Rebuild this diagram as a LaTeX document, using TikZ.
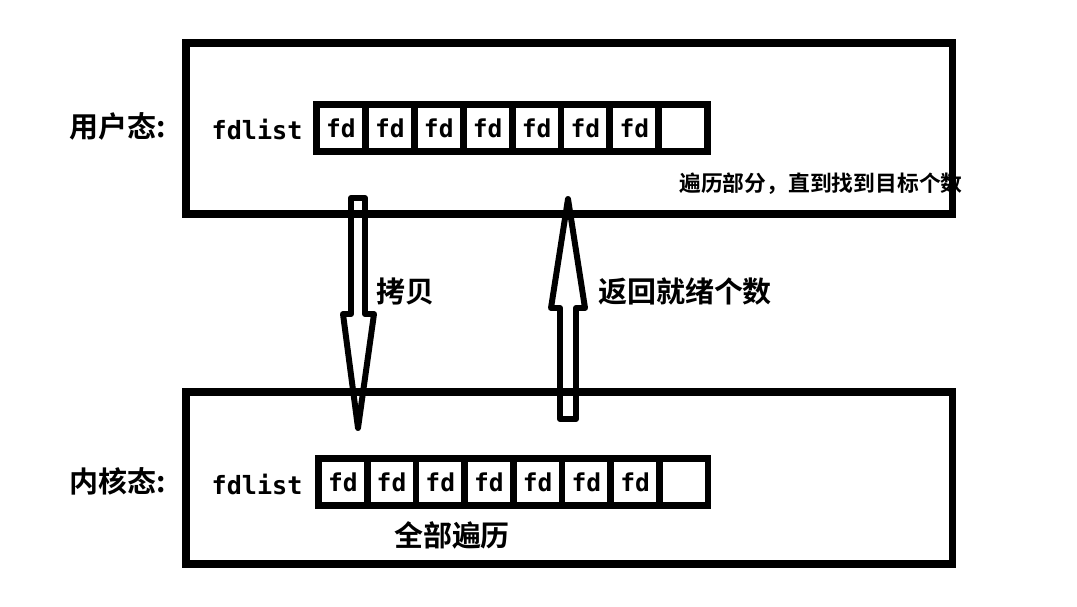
\documentclass[tikz,border=0pt]{standalone}
\usepackage{fontspec}
\setmonofont{DejaVu Sans Mono}
\newfontfamily\cjk{Noto Sans CJK SC}[BoldFont={* Bold}]
\usetikzlibrary{positioning}
\tikzset{
  box/.style={draw, line width=4pt},
  cell/.style={draw, line width=3.8pt, minimum width=27.7pt, minimum height=26.4pt,
    inner sep=0pt, outer sep=0pt, font=\ttfamily\bfseries\fontsize{14}{14}\selectfont},
  mono/.style={font=\ttfamily\bfseries\fontsize{14.3}{14.3}\selectfont},
  hollow/.style={draw, line width=3.4pt, line join=round},
  zh/.style={font=\cjk\bfseries\fontsize{16.5}{16.5}\selectfont},
  zhsmall/.style={font=\cjk\bfseries\fontsize{12.4}{12.4}\selectfont}
}

\begin{document}
\begin{tikzpicture}[x=0.02cm, y=-0.02cm]
  \useasboundingbox (0,0) rectangle (1077,607);

  % user space
  \draw[box] (186,43) rectangle (952,214);
  \node[zh] (userlbl) at (118,126) {用户态:};
  \node[mono] (ulist) at (257,129) {fdlist};
  \foreach \i in {1,...,7}
    \node[cell] (u\i) at ({316.5+48.9*(\i-0.5)},128) {fd};
  \node[cell] (u8) at ({316.5+48.9*7.5},128) {};
  \node[zhsmall] (part) at (821,184) {遍历部分，直到找到目标个数};

  % kernel space
  \draw[box] (186,392) rectangle (952,564);
  \node[zh] (kernlbl) at (118,481) {内核态:};
  \node[mono] (klist) at (257,484) {fdlist};
  \foreach \i in {1,...,7}
    \node[cell] (k\i) at ({318.5+48.7*(\i-0.5)},482) {fd};
  \node[cell] (k8) at ({318.5+48.7*7.5},482) {};
  \node[zh] (all) at (452,535) {全部遍历};

  % copy down
  \draw[hollow] (351,198) -- (365,198) -- (365,314) -- (374,314) -- (358,428)
    -- (343,314) -- (351,314) -- cycle;
  \node[zh] (copy) at (405,291) {拷贝};

  % ready count up
  \draw[hollow] (560,419) -- (576,419) -- (576,308) -- (585,308) -- (568,199)
    -- (551,308) -- (560,308) -- cycle;
  \node[zh] (ready) at (685,292) {返回就绪个数};

\end{tikzpicture}
\end{document}
